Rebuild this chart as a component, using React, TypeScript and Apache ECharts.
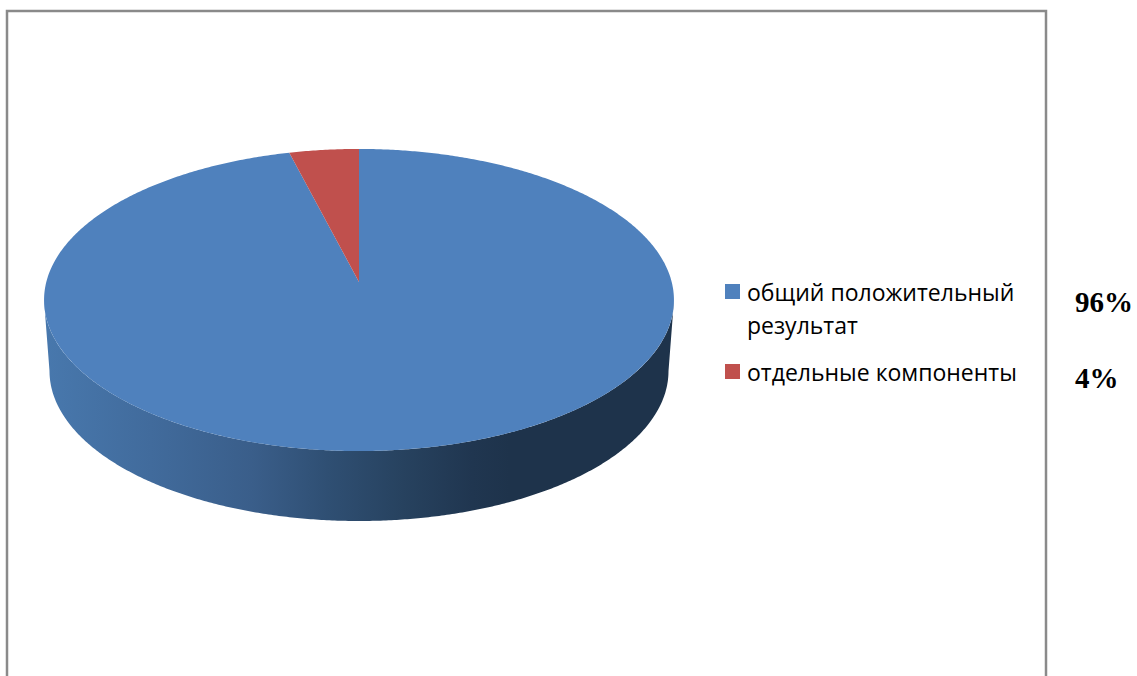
import React, { useEffect, useRef } from "react";
import * as echarts from "echarts";

const categories = ["общий положительный\nрезультат", "отдельные компоненты"];
const values = [96, 4];
const colors = ["#4F81BD", "#C0504D"];

const W = 1137;
const H = 676;
const CX = 359;
const TIP_Y = 282;
const PA = 312.7;
const PB = 148.9;
const PK = 0.1192;
const LINE = 33;

// Perspective projection of a unit disc seen from above
function project(angleDeg: number): number[] {
  const t = (angleDeg * Math.PI) / 180;
  const u = Math.sin(t);
  const v = Math.cos(t);
  const w = 1 + PK * v;
  return [CX + (PA * u) / w, TIP_Y - (PB * v) / w];
}

function slicePoints(from: number, to: number): number[][] {
  const pts: number[][] = [[CX, TIP_Y]];
  const n = Math.max(4, Math.ceil((to - from) * 2));
  for (let i = 0; i <= n; i++) pts.push(project(from + ((to - from) * i) / n));
  return pts;
}

function wallPoints(): number[][] {
  const pts: number[][] = [];
  for (let a = 0; a <= 180; a += 0.5) {
    const t = (a * Math.PI) / 180;
    pts.push([CX - 315 * Math.cos(t), 300 + 151 * Math.sin(t)]);
  }
  for (let a = 180; a >= 0; a -= 0.5) {
    const t = (a * Math.PI) / 180;
    pts.push([CX - 309.5 * Math.cos(t), 371 + 150 * Math.sin(t)]);
  }
  return pts;
}

const wallStops = [
  { offset: 0, color: "#4878AD" },
  { offset: 0.17, color: "#416B9C" },
  { offset: 0.33, color: "#3A5E8A" },
  { offset: 0.45, color: "#2F4F73" },
  { offset: 0.57, color: "#27425F" },
  { offset: 0.68, color: "#203650" },
  { offset: 0.74, color: "#1E334B" },
  { offset: 1, color: "#1E334B" },
];

export default function App() {
  const ref = useRef<HTMLDivElement>(null);

  useEffect(() => {
    const chart = echarts.init(ref.current!, null, { renderer: "svg", width: W, height: H });
    const total = values.reduce((a, b) => a + b, 0);

    const renderSlice = (params: any, api: any) => {
      const idx = params.seriesIndex;
      let start = 0;
      for (let i = 0; i < idx; i++) start += (values[i] / total) * 360;
      const end = start + (api.value(0) / total) * 360;
      const children: any[] = [];
      if (idx === 0) {
        children.push({
          type: "polygon",
          shape: { points: wallPoints() },
          style: {
            fill: new echarts.graphic.LinearGradient(44, 0, 674, 0, wallStops, true),
          },
        });
      }
      children.push({
        type: "polygon",
        shape: { points: slicePoints(start, end) },
        style: { fill: colors[idx] },
      });
      return { type: "group", children };
    };

    chart.setOption({
      animation: false,
      backgroundColor: "#FFFFFF",
      legend: {
        orient: "vertical",
        left: 725,
        top: 280,
        padding: 0,
        icon: "rect",
        itemWidth: 15,
        itemHeight: 15,
        itemGap: 24,
        selectedMode: false,
        data: [
          { name: categories[0], textStyle: { padding: [LINE, 0, 0, 2] } },
          { name: categories[1], textStyle: { padding: [0, 0, 0, 2] } },
        ],
        formatter: (n: string) =>
          n
            .split("\n")
            .map((l) => `{l|${l}}`)
            .join("\n"),
        textStyle: {
          color: "#000000",
          rich: {
            l: {
              fontFamily: "Open Sans",
              fontSize: 23,
              lineHeight: LINE,
              color: "#000000",
            },
          },
        },
      },
      series: categories.map((name, i) => ({
        type: "custom",
        name,
        coordinateSystem: "none",
        silent: true,
        itemStyle: { color: colors[i] },
        data: [values[i]],
        renderItem: renderSlice,
      })),
      graphic: [
        {
          type: "polyline",
          silent: true,
          shape: { points: [[7, H], [7, 11], [1046, 11], [1046, H]] },
          style: { stroke: "#8A8A8A", lineWidth: 2.5, fill: "none" },
        },
        ...values.map((v, i) => ({
          type: "text",
          silent: true,
          x: 1075,
          y: i === 0 ? 302 : 378,
          style: {
            text: `${v}%`,
            fontFamily: "Liberation Serif",
            fontWeight: "bold",
            fontSize: 29,
            fill: "#000000",
            textAlign: "left",
            textVerticalAlign: "middle",
          },
        })),
      ],
    });
    return () => chart.dispose();
  }, []);

  return (
    <div
      ref={ref}
      style={{ position: "fixed", left: 0, top: 0, width: W, height: H, background: "#fff" }}
    />
  );
}
